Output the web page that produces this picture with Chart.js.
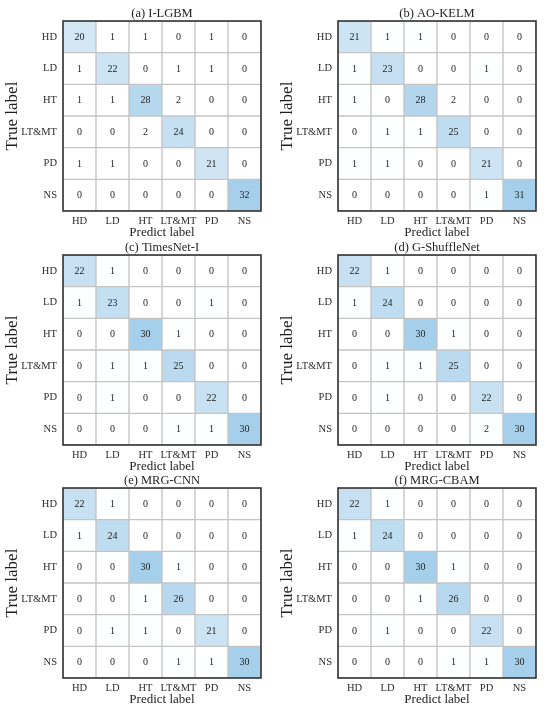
<!DOCTYPE html>
<html>
<head>
<meta charset="utf-8">
<script src="https://cdn.jsdelivr.net/npm/chart.js@4.4.1/dist/chart.umd.min.js"></script>
<style>
  html, body { margin: 0; padding: 0; background: #fff; }
  #wrap { position: relative; width: 550px; height: 715px; overflow: hidden; }
  #wrap canvas { position: absolute; }
</style>
</head>
<body>
<div id="wrap"></div>
<script>
// class names, used for both axes
const classes = ['HD', 'LD', 'HT', 'LT&MT', 'PD', 'NS'];

// confusion matrices, rows = true label, columns = predicted label
const cmILGBM = [
    [20, 1, 1, 0, 1, 0],
    [1, 22, 0, 1, 1, 0],
    [1, 1, 28, 2, 0, 0],
    [0, 0, 2, 24, 0, 0],
    [1, 1, 0, 0, 21, 0],
    [0, 0, 0, 0, 0, 32]
];
const cmAOKELM = [
    [21, 1, 1, 0, 0, 0],
    [1, 23, 0, 0, 1, 0],
    [1, 0, 28, 2, 0, 0],
    [0, 1, 1, 25, 0, 0],
    [1, 1, 0, 0, 21, 0],
    [0, 0, 0, 0, 1, 31]
];
const cmTimesNet = [
    [22, 1, 0, 0, 0, 0],
    [1, 23, 0, 0, 1, 0],
    [0, 0, 30, 1, 0, 0],
    [0, 1, 1, 25, 0, 0],
    [0, 1, 0, 0, 22, 0],
    [0, 0, 0, 1, 1, 30]
];
const cmGShuffle = [
    [22, 1, 0, 0, 0, 0],
    [1, 24, 0, 0, 0, 0],
    [0, 0, 30, 1, 0, 0],
    [0, 1, 1, 25, 0, 0],
    [0, 1, 0, 0, 22, 0],
    [0, 0, 0, 0, 2, 30]
];
const cmMRGCNN = [
    [22, 1, 0, 0, 0, 0],
    [1, 24, 0, 0, 0, 0],
    [0, 0, 30, 1, 0, 0],
    [0, 0, 1, 26, 0, 0],
    [0, 1, 1, 0, 21, 0],
    [0, 0, 0, 1, 1, 30]
];
const cmMRGCBAM = [
    [22, 1, 0, 0, 0, 0],
    [1, 24, 0, 0, 0, 0],
    [0, 0, 30, 1, 0, 0],
    [0, 0, 1, 26, 0, 0],
    [0, 1, 0, 0, 22, 0],
    [0, 0, 0, 1, 1, 30]
];

const panelTitles = ['(a) I-LGBM', '(b) AO-KELM', '(c) TimesNet-I', '(d) G-ShuffleNet', '(e) MRG-CNN', '(f) MRG-CBAM'];
const panelMatrices = [cmILGBM, cmAOKELM, cmTimesNet, cmGShuffle, cmMRGCNN, cmMRGCBAM];

const SERIF = "'Liberation Serif', 'DejaVu Serif', serif";
const TEXT = '#2b2b2b';

// white -> light blue, scaled on the panel maximum
function cellColor(v, max) {
    const t = Math.pow(v / max, 1.5);
    const r = Math.round(255 - t * (255 - 166));
    const g = Math.round(255 - t * (255 - 207));
    const b = Math.round(255 - t * (255 - 235));
    return 'rgb(' + r + ',' + g + ',' + b + ')';
}

// writes the count in the middle of each cell, then the box and the title
const cellText = {
    id: 'cellText',
    afterDatasetsDraw(chart) {
        const c = chart.ctx;
        c.save();
        c.font = '10px ' + SERIF;
        c.fillStyle = '#222';
        c.textAlign = 'center';
        c.textBaseline = 'middle';
        chart.data.datasets.forEach((ds, i) => {
            chart.getDatasetMeta(i).data.forEach((el, j) => {
                const p = el.getProps(['x', 'y', 'base'], true);
                c.fillText(String(ds.values[j]), p.x, (p.y + p.base) / 2 + 0.5);
            });
        });
        c.restore();
    },
    afterDraw(chart) {
        const a = chart.chartArea;
        const c = chart.ctx;
        c.save();
        c.strokeStyle = '#333';
        c.lineWidth = 1.6;
        c.strokeRect(a.left, a.top, a.right - a.left, a.bottom - a.top);
        c.font = '12.5px ' + SERIF;
        c.fillStyle = '#1e1e1e';
        c.textAlign = 'center';
        c.textBaseline = 'middle';
        c.fillText(chart.options.plugins.panelTitle, (a.left + a.right) / 2, a.top - 7);
        c.restore();
    }
};

function createConfusionChart(canvas, matrix, title) {
    const max = Math.max(...matrix.flat());
    const datasets = matrix.map((row, i) => ({
        data: row.map(() => [i, i + 1]),
        values: row,
        backgroundColor: ctx => cellColor(row[ctx.dataIndex], max),
        borderColor: '#c4c4c4',
        borderWidth: 1,
        borderSkipped: false,
        barPercentage: 1,
        categoryPercentage: 1,
        grouped: false
    }));

    new Chart(canvas, {
        type: 'bar',
        data: { labels: classes, datasets: datasets },
        plugins: [cellText],
        options: {
            responsive: false,
            animation: false,
            layout: { padding: { top: 21, right: 14, left: 0, bottom: 0 } },
            plugins: {
                legend: { display: false },
                tooltip: { enabled: false },
                panelTitle: title
            },
            scales: {
                x: {
                    grid: { display: false, drawTicks: false },
                    border: { display: false },
                    ticks: {
                        color: TEXT,
                        autoSkip: false,
                        maxRotation: 0,
                        padding: 4,
                        font: { family: SERIF, size: 10.5 }
                    },
                    title: {
                        display: true,
                        text: 'Predict label',
                        color: '#1e1e1e',
                        padding: { top: 0, bottom: 5 },
                        font: { family: SERIF, size: 13 }
                    },
                    afterFit(scale) { scale.height = 34; }
                },
                y: {
                    min: 0,
                    max: 6,
                    reverse: true,
                    grid: { display: false, drawTicks: false },
                    border: { display: false },
                    afterBuildTicks(scale) {
                        scale.ticks = classes.map((c, i) => ({ value: i + 0.5 }));
                    },
                    ticks: {
                        color: TEXT,
                        padding: 6,
                        font: { family: SERIF, size: 10.5 },
                        callback: v => classes[Math.floor(v)]
                    },
                    title: {
                        display: true,
                        text: 'True label',
                        color: '#1e1e1e',
                        padding: { top: 2, bottom: 0 },
                        font: { family: SERIF, size: 17 }
                    },
                    afterFit(scale) { scale.width = 63; }
                }
            }
        }
    });
}

const wrap = document.getElementById('wrap');
const rowTops = [0, 234, 467];
panelMatrices.forEach((m, k) => {
    const cv = document.createElement('canvas');
    cv.width = 275;
    cv.height = 245;
    cv.style.left = (k % 2) * 275 + 'px';
    cv.style.top = rowTops[Math.floor(k / 2)] + 'px';
    wrap.appendChild(cv);
    createConfusionChart(cv, m, panelTitles[k]);
});
</script>
</body>
</html>
